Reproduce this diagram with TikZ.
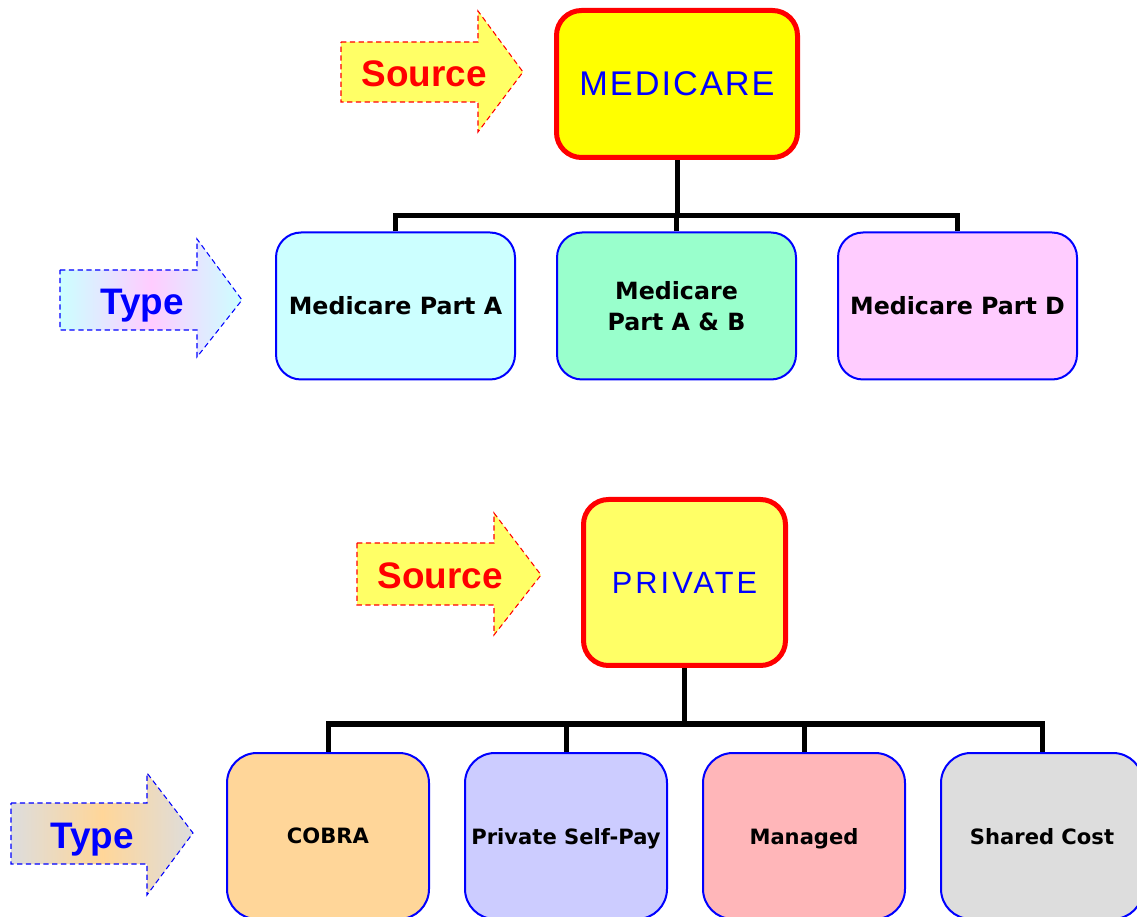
\documentclass[tikz,border=0pt]{standalone}
\usepackage{fontspec}
\setmainfont{Liberation Sans}
\newfontfamily\tahoma{DejaVu Sans}
\usetikzlibrary{positioning, backgrounds}
\definecolor{SrcYellow}{HTML}{FFFF66}
\definecolor{MedYellow}{HTML}{FFFF00}
\definecolor{TypeCyan}{HTML}{CCFFFF}
\definecolor{TypeMint}{HTML}{99FFCC}
\definecolor{TypePink}{HTML}{FFCCFF}
\definecolor{TypeOrange}{HTML}{FFD699}
\definecolor{TypeLilac}{HTML}{CCCCFF}
\definecolor{TypeRose}{HTML}{FFB6B9}
\definecolor{TypeGrey}{HTML}{DDDDDD}

\begin{document}
\begin{tikzpicture}[
          srcbox/.style={rectangle, rounded corners=0.5cm, draw=red,
                         line width=0.1cm, text=blue, inner sep=0pt},
          kind/.style={rectangle, rounded corners=0.5cm, draw=blue,
                       line width=0.04cm, align=center, inner sep=0pt,
                       font=\tahoma\bfseries\fontsize{13.5}{18}\selectfont,
                       minimum width=4.78cm, minimum height=2.94cm},
          kindlow/.style={kind, rounded corners=0.6cm, text depth=0pt,
                          font=\tahoma\bfseries\fontsize{12}{15}\selectfont,
                          minimum width=4.04cm, minimum height=3.32cm},
          srcarrow/.style={draw=red, fill=SrcYellow, line width=0.6pt,
                           dash pattern=on 3pt off 2pt},
          typearrow/.style={draw=blue, line width=0.6pt,
                            dash pattern=on 3pt off 2pt},
          srclabel/.style={font=\bfseries\fontsize{21}{25}\selectfont, text=red},
          typelabel/.style={font=\bfseries\fontsize{21}{25}\selectfont, text=blue},
          conn/.style={line width=0.1cm, black}
        ]
        \useasboundingbox (0,0) rectangle (22.74,-18.34);

        % Medicare tree
        \node[srcbox, fill=MedYellow, minimum width=4.82cm, minimum height=2.94cm,
              font=\fontsize{19.5}{22}\selectfont\addfontfeature{LetterSpace=6}]
              (medicare) at (13.54,-1.68) {MEDICARE};
        \node[kind, fill=TypeCyan] (partA)  at ( 7.91,-6.12) {Medicare Part A};
        \node[kind, fill=TypeMint] (partAB) at (13.53,-6.12) {Medicare\\Part A \& B};
        \node[kind, fill=TypePink] (partD)  at (19.15,-6.12) {Medicare Part D};
        \coordinate (medbus) at (13.54,-4.32);

        % Private tree
        \node[srcbox, fill=SrcYellow, minimum width=4.04cm, minimum height=3.32cm,
              font=\fontsize{17.5}{21}\selectfont\addfontfeature{LetterSpace=10}]
              (private) at (13.69,-11.65) {PRIVATE};
        \foreach \n/\x/\c/\t in {cobra/6.56/TypeOrange/COBRA,
                                 selfpay/11.32/TypeLilac/Private Self-Pay,
                                 managed/16.08/TypeRose/Managed,
                                 shared/20.84/TypeGrey/Shared Cost} {
          \node[kindlow, fill=\c] (\n) at (\x,-16.72) {\t};
        }
        \coordinate (privbus) at (13.69,-14.48);

        % Connectors
        \begin{scope}[on background layer]
          \draw[conn] (medicare.south) -- (medbus);
          \draw[conn] (partA.north) |- (medbus) -| (partD.north);
          \draw[conn] (partAB.north) -- (partAB.north |- medbus);
          \draw[conn] (private.south) -- (privbus);
          \draw[conn] (cobra.north) |- (privbus) -| (shared.north);
          \draw[conn] (selfpay.north) -- (selfpay.north |- privbus);
          \draw[conn] (managed.north) -- (managed.north |- privbus);
        \end{scope}

        % Source / Type arrows
        \draw[srcarrow] (6.82,-0.84) -- (9.56,-0.84) -- (9.56,-0.22) -- (10.46,-1.44)
              -- (9.56,-2.64) -- (9.56,-2.04) -- (6.82,-2.04) -- cycle;
        \path[typearrow, left color=TypeCyan, right color=TypeCyan, middle color=TypePink]
              (1.20,-5.40) -- (3.94,-5.40) -- (3.94,-4.78) -- (4.84,-6.00)
              -- (3.94,-7.14) -- (3.94,-6.60) -- (1.20,-6.60) -- cycle;
        \draw[srcarrow] (7.14,-10.86) -- (9.88,-10.86) -- (9.88,-10.26) -- (10.82,-11.50)
              -- (9.88,-12.70) -- (9.88,-12.10) -- (7.14,-12.10) -- cycle;
        \path[typearrow, left color=TypeGrey, right color=TypeGrey, middle color=TypeOrange]
              (0.22,-16.06) -- (2.94,-16.06) -- (2.94,-15.46) -- (3.86,-16.66)
              -- (2.94,-17.90) -- (2.94,-17.28) -- (0.22,-17.28) -- cycle;

        \node[srclabel, anchor=base]  (srcmed)   at (8.48,-1.74)  {Source};
        \node[typelabel, anchor=base] (typemed)  at (2.84,-6.30)  {Type};
        \node[srclabel, anchor=base]  (srcpriv)  at (8.80,-11.78) {Source};
        \node[typelabel, anchor=base] (typepriv) at (1.84,-16.96) {Type};
      \end{tikzpicture}
\end{document}
